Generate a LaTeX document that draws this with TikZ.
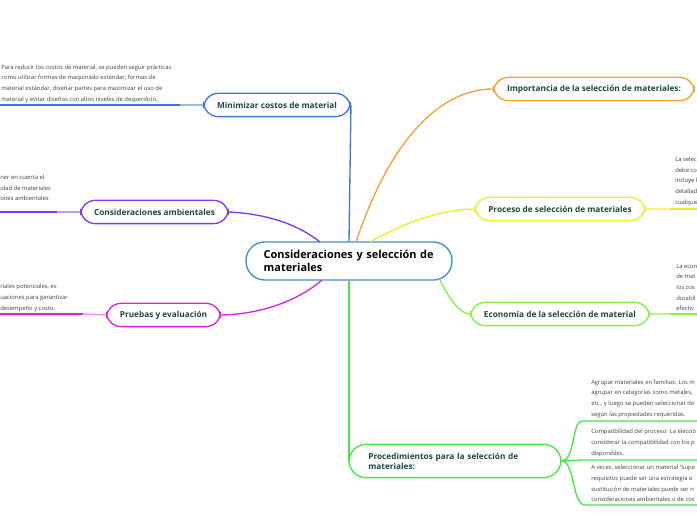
\documentclass[tikz,border=0pt]{standalone}
\usepackage{fontspec}
\setmainfont{Open Sans}
\usetikzlibrary{positioning}
\definecolor{cblue}{HTML}{3A78E0}
\definecolor{cmain}{HTML}{3C8FD0}
\definecolor{cpurple}{HTML}{7A3CF0}
\definecolor{cmagenta}{HTML}{E020D8}
\definecolor{corange}{HTML}{F7A030}
\definecolor{cyellow}{HTML}{EEEE20}
\definecolor{clime}{HTML}{88F040}
\definecolor{cgreen}{HTML}{44E840}
\definecolor{ctext}{HTML}{1A4A3A}

\begin{document}
\begin{tikzpicture}[
    x=0.75pt, y=-0.75pt,
    topic/.style={draw, line width=1pt, rounded corners=11pt, minimum height=17.5pt, inner xsep=10pt,
        font=\fontsize{6.2}{7.5}\selectfont\bfseries, text=ctext},
    note/.style={anchor=south west, align=left, inner sep=0pt, font=\fontsize{4.4}{8}\selectfont, text=black!75},
    link/.style={line width=1pt},
    stem/.style={line width=1.6pt}
]
    \useasboundingbox (0,0) rectangle (697,520);

    % Central topic
    \node[draw=cmain, line width=1pt, rounded corners=14pt, minimum width=154.5pt, minimum height=28.5pt,
        align=left, text width=128pt, font=\fontsize{8.2}{10}\selectfont\bfseries, text=black] (root)
        at (349,261) {Consideraciones y selección de\\materiales};

    % Main topics
    \node[topic, draw=cblue, minimum width=108pt] (costos) at (277,105) {Minimizar costos de material};
    \node[topic, draw=cpurple, minimum width=109pt] (ambiente) at (154.5,212) {Consideraciones ambientales};
    \node[topic, draw=cmagenta, minimum width=83pt] (pruebas) at (163.5,315) {Pruebas y evaluación};
    \node[topic, draw=corange, minimum width=147pt] (importancia) at (594,89) {Importancia de la selección de materiales:};
    \node[topic, draw=cyellow, minimum width=123pt] (proceso) at (560,209) {Proceso de selección de materiales};
    \node[topic, draw=clime, minimum width=130pt] (economia) at (560,314) {Economía de la selección de material};
    \node[topic, draw=cgreen, minimum width=159pt, minimum height=25pt, rounded corners=13pt, align=left,
        text width=130pt] (procedim) at (455,461) {Procedimientos para la selección de\\materiales:};

    % Connectors from the centre
    \draw[link, cblue] (root.north) -- (costos.east);
    \draw[link, cpurple] (ambiente.east) .. controls (270,214) and (300,226) .. (320,242);
    \draw[link, cmagenta] (pruebas.east) .. controls (270,314) and (305,295) .. (322,280);
    \draw[link, corange] (356,242) .. controls (390,140) and (440,89) .. (importancia.west);
    \draw[link, cyellow] (370,242) .. controls (400,225) and (440,209) .. (proceso.west);
    \draw[link, clime] (440,280) .. controls (450,300) and (460,314) .. (economia.west);
    \draw[link, cgreen] (root.south) -- (349,461) -- (procedim.west);

    % Detail lines
    \coordinate (cL) at (0,105);
    \draw[link, cblue!50] (costos.west) -- (180,105);
    \draw[stem, cblue] (180,105) -- (cL);
    \coordinate (aL) at (0,212);
    \draw[link, cpurple!50] (ambiente.west) -- (57,212);
    \draw[stem, cpurple] (57,212) -- (aL);
    \coordinate (pL) at (0,314);
    \draw[link, cmagenta!50] (pruebas.west) -- (83,314);
    \draw[stem, cmagenta] (83,314) -- (pL);
    \coordinate (prR) at (697,209);
    \draw[link, cyellow!60] (proceso.east) -- (670,209);
    \draw[stem, cyellow] (670,209) -- (prR);
    \coordinate (ecR) at (697,314);
    \draw[link, clime!60] (economia.east) -- (670,314);
    \draw[stem, clime] (670,314) -- (ecR);
    \coordinate (g1) at (582,421);
    \coordinate (g2) at (582,460);
    \coordinate (g3) at (585,505);
    \draw[link, cgreen] (procedim.east) .. controls (575,461) and (572,421) .. (g1) -- (697,421);
    \draw[link, cgreen] (procedim.east) -- (g2) -- (697,460);
    \draw[link, cgreen] (procedim.east) .. controls (575,461) and (572,505) .. (g3) -- (697,505);

    % Notes
    \node[note] at (1,103) {Para reducir los costos de material, se pueden seguir prácticas\\como utilizar formas de maquinado estándar, formas de\\material estándar, diseñar partes para maximizar el uso de\\material y evitar diseños con altos niveles de desperdicio.};
    \node[note] at (0,201) {ner en cuenta el\\idad de materiales\\ones ambientales};
    \node[note] at (0,312) {riales potenciales, es\\uaciones para garantizar\\desempeño y costo.};
    \node[note] at (675,206) {La selec\\debe co\\incluye l\\detallad\\cualquie};
    \node[note] at (676,311) {La econ\\de mat\\los cos\\durabil\\efectiv};
    \node[note] at (591,418) {Agrupar materiales en familias: Los m\\agrupar en categorías como metales,\\etc., y luego se pueden seleccionar de\\según las propiedades requeridas.};
    \node[note] at (591,457) {Compatibilidad del proceso: La elecció\\considerar la compatibilidad con los p\\disponibles.};
    \node[note] at (591,502) {A veces, seleccionar un material "supe\\requisitos puede ser una estrategia e\\sustitución de materiales puede ser n\\consideraciones ambientales o de cos};
\end{tikzpicture}
\end{document}
